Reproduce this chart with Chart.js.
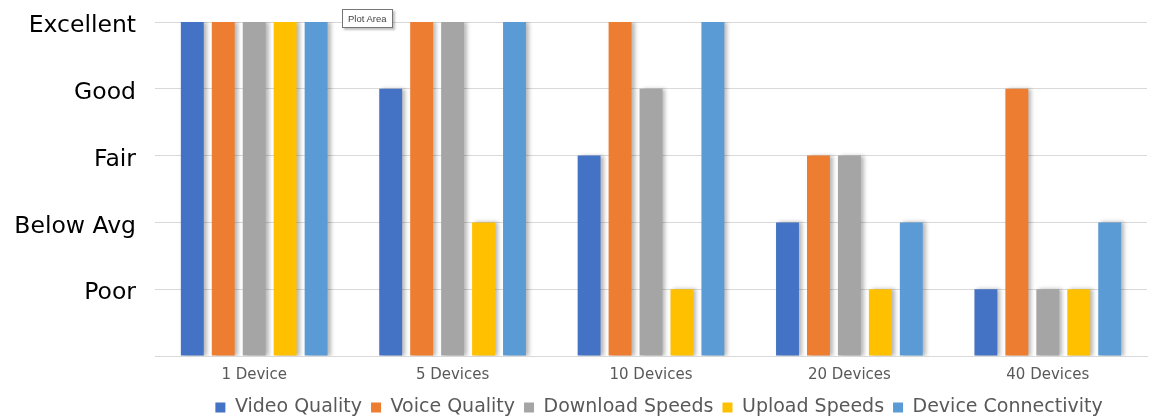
<!DOCTYPE html>
<html lang="en">
<head>
  <meta charset="UTF-8">
  <title>Network Quality by Device Count</title>
  <script src="https://cdn.jsdelivr.net/npm/chart.js"></script>
  <style>
    html, body { margin: 0; padding: 0; background: #fff; overflow: hidden; }
    #wrap { position: relative; width: 1150px; height: 417px; }
    .tip {
      position: absolute; left: 342px; top: 9px;
      font: 9.5px "Liberation Sans", Arial, sans-serif; color: #444;
      background: #fff; border: 1px solid #767676; padding: 3px 5px 3px 5px;
      box-shadow: 2px 2px 2px rgba(0,0,0,0.25);
    }
  </style>
</head>
<body>
<div id="wrap">
  <canvas id="chart" width="1150" height="417"></canvas>
  <div class="tip">Plot Area</div>
</div>
<script>
const categories = ['1 Device', '5 Devices', '10 Devices', '20 Devices', '40 Devices'];
const ratingLabels = ['', 'Poor', 'Below Avg', 'Fair', 'Good', 'Excellent'];

const videoQuality = [5, 4, 3, 2, 1];
const voiceQuality = [5, 5, 5, 3, 4];
const downloadSpeeds = [5, 5, 4, 3, 1];
const uploadSpeeds = [5, 2, 1, 1, 1];
const deviceConnectivity = [5, 5, 5, 2, 2];

const FONT = '"DejaVu Sans", "Lato", sans-serif';

// soft drop shadow on the right of each bar, like the office chart
const barShadow = {
  id: 'barShadow',
  beforeDatasetsDraw(chart) {
    const ctx = chart.ctx;
    ctx.save();
    ctx.shadowColor = 'rgba(0,0,0,0.28)';
    ctx.shadowBlur = 4;
    ctx.shadowOffsetX = 3;
    ctx.shadowOffsetY = 0;
  },
  afterDatasetsDraw(chart) {
    chart.ctx.restore();
  }
};

// the legend sits centred under the plot area, not the whole canvas
const legendShift = {
  id: 'legendShift',
  afterLayout(chart) {
    const lg = chart.legend;
    const off = (chart.chartArea.left + chart.chartArea.right) / 2 - (lg.left + lg.right) / 2 + 8;
    lg.left += off;
    lg.right += off;
  }
};

function ds(label, data, color) {
  return {
    label, data,
    backgroundColor: color,
    borderWidth: 0,
    barPercentage: 0.74,
    categoryPercentage: 0.78
  };
}

new Chart(document.getElementById('chart'), {
  type: 'bar',
  data: {
    labels: categories,
    datasets: [
      ds('Video Quality', videoQuality, '#4472c4'),
      ds('Voice Quality', voiceQuality, '#ed7d31'),
      ds('Download Speeds', downloadSpeeds, '#a5a5a5'),
      ds('Upload Speeds', uploadSpeeds, '#ffc000'),
      ds('Device Connectivity', deviceConnectivity, '#5b9bd5')
    ]
  },
  options: {
    responsive: false,
    animation: false,
    layout: { padding: { top: 0, right: 3, left: 0, bottom: -10 } },
    plugins: {
      tooltip: { enabled: false },
      legend: {
        position: 'bottom',
        labels: {
          boxWidth: 10, boxHeight: 10, padding: 9,
          color: '#595959',
          font: { family: FONT, size: 19 }
        }
      }
    },
    scales: {
      x: {
        grid: { display: false },
        border: { color: '#d9d9d9' },
        afterFit(scale) { scale.height += 3; },
        ticks: { color: '#595959', font: { family: FONT, size: 15 }, padding: 2 }
      },
      y: {
        min: 0, max: 5,
        grid: { color: '#d9d9d9', drawTicks: false },
        border: { display: false },
        afterFit(scale) {
          scale.width = 155;
          scale.paddingTop = 22;
          scale.paddingBottom = 0;
        },
        ticks: {
          stepSize: 1,
          padding: 19,
          labelOffset: 4,
          color: '#000',
          font: { family: FONT, size: 23.5 },
          callback: v => ratingLabels[v]
        }
      }
    }
  },
  plugins: [barShadow, legendShift]
});
</script>
</body>
</html>
